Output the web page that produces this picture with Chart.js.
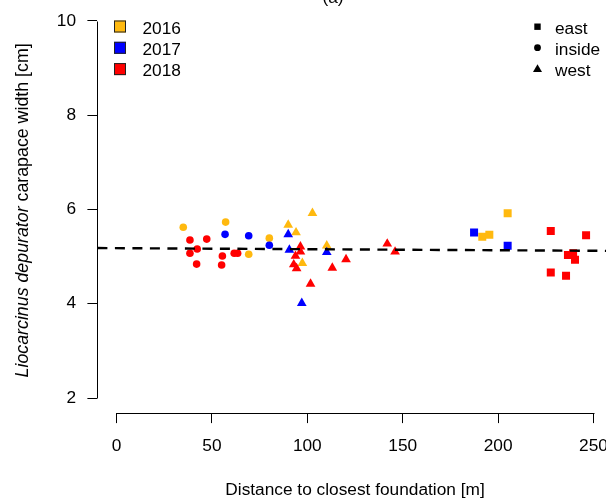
<!DOCTYPE html>
<html><head><meta charset="utf-8">
<script src="https://cdn.jsdelivr.net/npm/chart.js@4.4.0/dist/chart.umd.min.js"></script>
<style>
html,body{margin:0;padding:0;overflow:hidden;background:#fff;}
#wrap{width:620px;height:500px;position:relative;}
</style></head><body>
<div id="wrap"><canvas id="c"></canvas></div>
<script>
// ---- data ----
const xTicks = [0, 50, 100, 150, 200, 250];
const yTicks = [2, 4, 6, 8, 10];
const years = ['2016', '2017', '2018'];
const sites = ['east', 'inside', 'west'];
const yearColors = ['#FFB90F', '#0000FF', '#FF0000'];

const x2016inside = [35.0, 57.2, 69.3, 80.1];
const y2016inside = [5.62, 5.73, 5.05, 5.39];
const x2016west = [90.0, 94.1, 102.7, 97.4, 110.2];
const y2016west = [5.67, 5.51, 5.92, 4.86, 5.23];
const x2016east = [205.0, 191.7, 195.4];
const y2016east = [5.92, 5.42, 5.46];

const x2017inside = [56.9, 69.3, 80.1];
const y2017inside = [5.47, 5.44, 5.24];
const x2017west = [90.0, 90.6, 110.2, 97.1];
const y2017west = [5.47, 5.14, 5.09, 4.01];
const x2017east = [187.4, 205.0];
const y2017east = [5.51, 5.23];

const x2018inside = [38.5, 47.3, 42.3, 38.5, 42.0, 55.5, 55.1, 61.7, 63.5];
const y2018inside = [5.35, 5.37, 5.16, 5.07, 4.84, 5.01, 4.82, 5.07, 5.07];
const x2018west = [96.4, 96.4, 93.8, 92.9, 94.4, 101.7, 113.1, 120.3, 141.9, 146.0];
const y2018west = [5.21, 5.10, 5.01, 4.83, 4.75, 4.42, 4.76, 4.94, 5.27, 5.10];
const x2018east = [227.6, 246.1, 236.6, 239.3, 240.3, 227.6, 235.6];
const y2018east = [5.54, 5.45, 5.03, 5.07, 4.93, 4.66, 4.59];

const fitX = [-10, 260];
const fitY = [5.18, 5.12];

// ---- build ----
const FONT = '"Liberation Sans", Arial, sans-serif';
const FS = 17.3;
const FSY = 17.8;
const pts = (xs, ys) => xs.map((v, i) => ({x: v, y: ys[i]}));
const styleOf = {east: {s: 'rect', r: 5.66}, inside: {s: 'circle', r: 3.8}, west: {s: 'triangle', r: 5.6}};
const groups = {
  '2016': {east: [x2016east, y2016east], inside: [x2016inside, y2016inside], west: [x2016west, y2016west]},
  '2017': {east: [x2017east, y2017east], inside: [x2017inside, y2017inside], west: [x2017west, y2017west]},
  '2018': {east: [x2018east, y2018east], inside: [x2018inside, y2018inside], west: [x2018west, y2018west]}
};
const datasets = [{
  type: 'line', label: 'fit', data: pts(fitX, fitY), borderColor: '#000', borderWidth: 2.4,
  borderDash: [10, 7.5], pointRadius: 0, fill: false, order: 0
}];
years.forEach((yr, yi) => {
  sites.forEach(st => {
    const g = groups[yr][st];
    datasets.push({
      type: 'scatter', label: yr + ' ' + st, data: pts(g[0], g[1]),
      pointStyle: styleOf[st].s, pointRadius: styleOf[st].r,
      backgroundColor: yearColors[yi], borderColor: yearColors[yi], borderWidth: 0,
      order: 3 - yi
    });
  });
});

const decor = {
  id: 'decor',
  afterDraw(chart) {
    const {ctx, scales: {x, y}, chartArea} = chart;
    ctx.save();
    ctx.strokeStyle = '#000';
    ctx.lineWidth = 1;
    // y axis line
    const ax = Math.round(chartArea.left) + 0.5;
    ctx.beginPath();
    ctx.moveTo(ax, Math.round(y.getPixelForValue(yTicks[0])) + 0.5);
    ctx.lineTo(ax, Math.round(y.getPixelForValue(yTicks[yTicks.length - 1])) + 0.5);
    ctx.stroke();
    // x axis line
    const ay = Math.round(chartArea.bottom) + 0.5;
    ctx.beginPath();
    ctx.moveTo(Math.round(x.getPixelForValue(xTicks[0])) + 0.5, ay);
    ctx.lineTo(Math.round(x.getPixelForValue(xTicks[xTicks.length - 1])) + 0.5, ay);
    ctx.stroke();

    ctx.fillStyle = '#000';
    // x title
    ctx.font = FS + 'px ' + FONT;
    ctx.textAlign = 'center';
    ctx.textBaseline = 'alphabetic';
    const cx = (chartArea.left + chartArea.right) / 2;
    ctx.fillText('Distance to closest foundation [m]', cx, 494.5);
    // main title (mostly cut off at top)
    ctx.fillText('(a)', 333, 3);
    // y title
    ctx.save();
    ctx.translate(23.5, (chartArea.top + chartArea.bottom) / 2 + 1);
    ctx.rotate(-Math.PI / 2);
    const itFont = 'italic ' + FSY + 'px ' + FONT;
    const nFont = FSY + 'px ' + FONT;
    const p1 = 'Liocarcinus depurator', p2 = ' carapace width [cm]';
    ctx.font = itFont; const w1 = ctx.measureText(p1).width;
    ctx.font = nFont; const w2 = ctx.measureText(p2).width;
    const start = -(w1 + w2) / 2;
    ctx.textAlign = 'left';
    ctx.textBaseline = 'middle';
    ctx.font = itFont; ctx.fillText(p1, start, 0);
    ctx.font = nFont; ctx.fillText(p2, start + w1, 0);
    ctx.restore();

    // year legend
    const rows = [26.5, 47.8, 69.1];
    const bases = [33.5, 54.5, 75.5];
    ctx.font = FS + 'px ' + FONT;
    ctx.textAlign = 'left';
    ctx.textBaseline = 'alphabetic';
    years.forEach((yr, i) => {
      ctx.fillStyle = yearColors[i];
      ctx.fillRect(114, rows[i] - 6, 12, 12);
      ctx.strokeStyle = '#222';
      ctx.strokeRect(114.5, rows[i] - 5.5, 11, 11);
      ctx.fillStyle = '#000';
      ctx.fillText(yr, 142.5, bases[i]);
    });
    // site legend
    const mx = 537.5;
    ctx.fillStyle = '#000';
    sites.forEach((st, i) => {
      const cy = bases[i] - 6.8;
      ctx.beginPath();
      if (st === 'east') { ctx.rect(mx - 3.2, cy - 3.2, 6.4, 6.4); }
      else if (st === 'inside') { ctx.arc(mx, cy, 3.4, 0, Math.PI * 2); }
      else { ctx.moveTo(mx, cy - 4.5); ctx.lineTo(mx + 4.5, cy + 3.2); ctx.lineTo(mx - 4.5, cy + 3.2); ctx.closePath(); }
      ctx.fill();
      ctx.fillText(st, 555, bases[i]);
    });
    ctx.restore();
  }
};

new Chart(document.getElementById('c'), {
  data: {datasets},
  options: {
    responsive: true, maintainAspectRatio: false, animation: false, events: [],
    layout: {padding: {top: 5.6, right: 7.4, left: 0, bottom: 0}},
    plugins: {legend: {display: false}, tooltip: {enabled: false}, title: {display: false}},
    scales: {
      x: {
        type: 'linear', position: 'bottom', min: -10, max: 260,
        afterBuildTicks: s => { s.ticks = xTicks.map(v => ({value: v})); },
        afterFit: s => { s.height = 86.9; s.paddingLeft = 0; s.paddingRight = 0; },
        grid: {display: true, drawOnChartArea: false, drawTicks: true, tickLength: 10, color: '#000', lineWidth: 1},
        border: {display: false},
        ticks: {autoSkip: false, maxRotation: 0, padding: 12.5, color: '#000', font: {family: FONT, size: FS}}
      },
      y: {
        type: 'linear', position: 'left', min: 1.68, max: 10.32,
        afterBuildTicks: s => { s.ticks = yTicks.map(v => ({value: v})); },
        afterFit: s => { s.width = 97.4; s.paddingTop = 0; s.paddingBottom = 0; },
        grid: {display: true, drawOnChartArea: false, drawTicks: true, tickLength: 10, color: '#000', lineWidth: 1},
        border: {display: false},
        ticks: {autoSkip: false, padding: 11.4, color: '#000', font: {family: FONT, size: FS}}
      }
    }
  },
  plugins: [decor]
});
</script>
</body></html>
